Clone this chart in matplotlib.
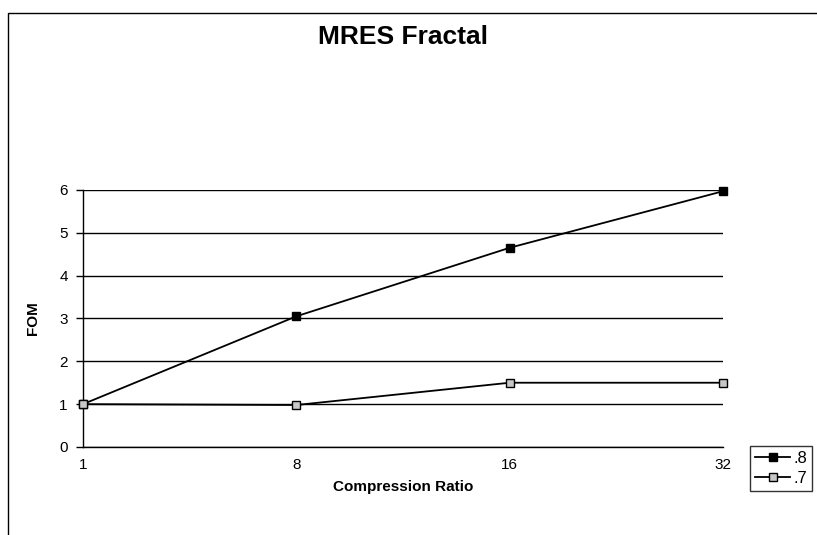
import matplotlib.pyplot as plt
import numpy as np
from matplotlib.patches import Rectangle

# dati
categorie = ['1', '8', '16', '32']
serie_8 = [1.0, 3.05, 4.65, 5.97]
serie_7 = [1.0, 0.98, 1.5, 1.5]
etichette = ['.8', '.7']

plt.rcParams['font.family'] = ['Liberation Sans', 'DejaVu Sans']

fig = plt.figure(figsize=(8.17, 5.35), dpi=100)
ax = fig.add_axes([0.1016, 0.1645, 0.7834, 0.4805])

x = np.arange(len(categorie))
l1, = ax.plot(x, serie_8, color='black', lw=1.3, marker='s', ms=6,
              mfc='black', mec='black', clip_on=False, zorder=3)
l2, = ax.plot(x, serie_7, color='black', lw=1.3, marker='s', ms=6,
              mfc='#c8c8c8', mec='black', clip_on=False, zorder=3)

ax.set_xlim(0, 3)
ax.set_ylim(0, 6)
ax.set_xticks(x)
ax.set_xticklabels(categorie, fontsize=11)
ax.set_yticks(range(7))
ax.tick_params(axis='y', length=5, width=1, labelsize=11, pad=6)
ax.tick_params(axis='x', length=0, labelsize=11, pad=8)
ax.yaxis.grid(True, color='black', lw=1)
ax.set_axisbelow(True)
for s in ['top', 'right']:
    ax.spines[s].set_visible(False)
ax.spines['left'].set_linewidth(1)
ax.spines['bottom'].set_linewidth(1)

ax.set_xlabel('Compression Ratio', fontsize=11, fontweight='bold', labelpad=6)
ax.set_ylabel('FOM', fontsize=11, fontweight='bold', labelpad=14)

fig.text(0.493, 0.93, 'MRES Fractal', fontsize=19, fontweight='bold',
         ha='center', va='center')

fig.legend([l1, l2], etichette, loc='upper left', bbox_to_anchor=(0.918, 0.166),
           frameon=True, fancybox=False, edgecolor='black', fontsize=12,
           handlelength=2.1, handletextpad=0.2, borderpad=0.3, labelspacing=0.3,
           borderaxespad=0)

# cornice esterna
fig.add_artist(Rectangle((0.01, -0.01), 1.2, 0.986, transform=fig.transFigure,
                         fill=False, lw=1, ec='black'))

fig.savefig('out.png', dpi=100)
